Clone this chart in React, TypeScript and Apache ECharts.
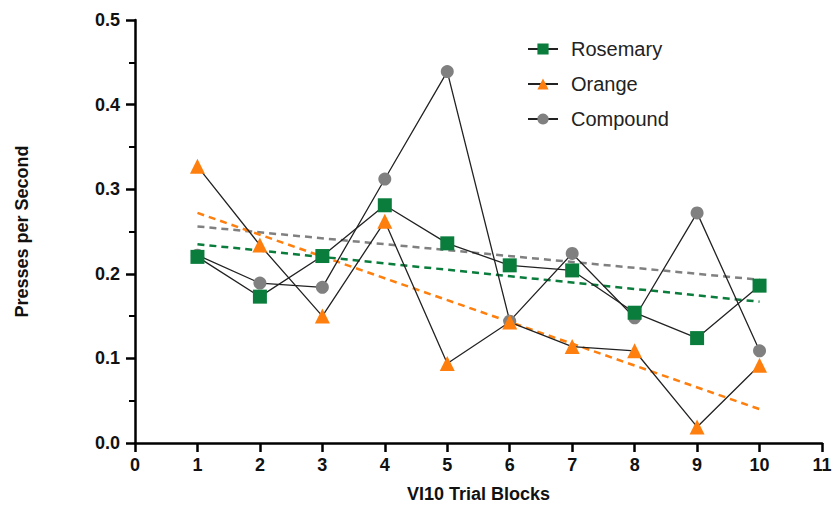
import React, { useEffect, useRef } from "react";
import * as echarts from "echarts";

const blocks = [1, 2, 3, 4, 5, 6, 7, 8, 9, 10];
const rosemary = [0.220, 0.173, 0.221, 0.281, 0.236, 0.210, 0.204, 0.154, 0.124, 0.186];
const orange = [0.327, 0.234, 0.150, 0.262, 0.094, 0.143, 0.114, 0.109, 0.019, 0.092];
const compound = [0.222, 0.189, 0.184, 0.312, 0.439, 0.144, 0.224, 0.148, 0.272, 0.109];
const trendX = [1, 10];
const rosemaryTrend = [0.235, 0.167];
const orangeTrend = [0.272, 0.040];
const compoundTrend = [0.256, 0.193];

const GREEN = "#0a7d3c";
const ORANGE = "#ff7f0e";
const GREY = "#808080";
const FONT = "'Liberation Sans Narrow', 'Liberation Sans', Arial, sans-serif";

const pair = (xs: number[], ys: number[]) => xs.map((x, i) => [x, ys[i]]);

export default function App() {
  const ref = useRef<HTMLDivElement>(null);
  useEffect(() => {
    if (!ref.current) return;
    const chart = echarts.init(ref.current, null, { renderer: "svg" });
    const dataSeries = (name: string, ys: number[], symbol: string, size: number, color: string) => ({
      name,
      type: "line",
      data: pair(blocks, ys),
      symbol,
      symbolSize: size,
      lineStyle: { color: "#222", width: 1.3 },
      itemStyle: { color },
      z: 3,
    });
    const trend = (ys: number[], color: string) => ({
      type: "line",
      data: pair(trendX, ys),
      symbol: "none",
      lineStyle: { color, width: 2.5, type: [7, 5] },
      z: 2,
      silent: true,
    });
    chart.setOption({
      animation: false,
      backgroundColor: "#fff",
      grid: { left: 135, right: 14, top: 20, bottom: 76 },
      legend: {
        data: ["Rosemary", "Orange", "Compound"],
        orient: "vertical",
        left: 522,
        top: 34,
        itemWidth: 30,
        itemHeight: 14,
        itemGap: 15,
        textStyle: { fontSize: 20, color: "#222", fontFamily: "'Liberation Sans', Arial, sans-serif", padding: [0, 0, 0, 8] },
      },
      xAxis: {
        type: "value",
        min: 0,
        max: 11,
        interval: 1,
        name: "VI10 Trial Blocks",
        nameLocation: "middle",
        nameGap: 42,
        nameTextStyle: { fontSize: 18, fontWeight: "bold", color: "#111", fontFamily: FONT },
        axisLine: { lineStyle: { color: "#000", width: 2.5 } },
        axisTick: { length: 9, lineStyle: { color: "#000", width: 2.5 } },
        axisLabel: { fontSize: 18, fontWeight: "bold", color: "#111", fontFamily: FONT, margin: 13 },
        splitLine: { show: false },
      },
      yAxis: {
        type: "value",
        min: 0,
        max: 0.5,
        interval: 0.1,
        name: "Presses per Second",
        nameLocation: "middle",
        nameGap: 104,
        nameTextStyle: { fontSize: 18, fontWeight: "bold", color: "#111", fontFamily: FONT },
        axisLine: { show: true, lineStyle: { color: "#000", width: 2.5 } },
        axisTick: { show: true, length: 9, lineStyle: { color: "#000", width: 2.5 } },
        minorTick: { show: true, splitNumber: 2, length: 6, lineStyle: { color: "#000", width: 2 } },
        axisLabel: {
          fontSize: 18,
          fontWeight: "bold",
          color: "#111",
          fontFamily: FONT,
          margin: 15,
          formatter: (v: number) => v.toFixed(1),
        },
        splitLine: { show: false },
      },
      series: [
        trend(compoundTrend, GREY),
        trend(rosemaryTrend, GREEN),
        trend(orangeTrend, ORANGE),
        dataSeries("Compound", compound, "circle", 13, GREY),
        dataSeries("Orange", orange, "triangle", 15, ORANGE),
        dataSeries("Rosemary", rosemary, "rect", 14, GREEN),
      ],
    });
    return () => chart.dispose();
  }, []);
  return <div ref={ref} style={{ position: "fixed", left: 0, top: 0, width: 836, height: 519 }} />;
}
